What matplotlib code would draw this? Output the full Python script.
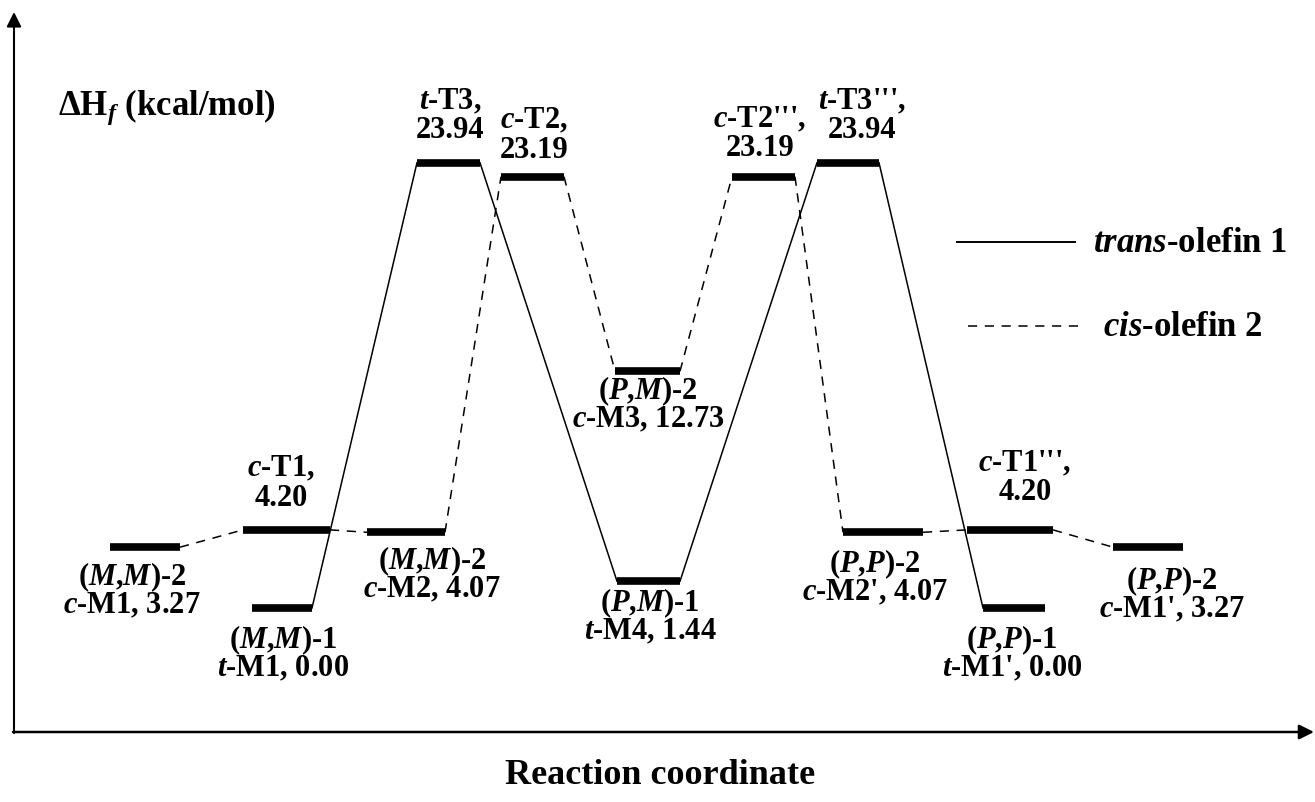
import matplotlib
matplotlib.use("Agg")
import matplotlib.pyplot as plt

plt.rcParams['font.family'] = ['Liberation Serif', 'DejaVu Serif']
plt.rcParams['font.weight'] = 'bold'
plt.rcParams['mathtext.fontset'] = 'custom'
plt.rcParams['mathtext.rm'] = 'Liberation Serif:bold'
plt.rcParams['mathtext.bf'] = 'Liberation Serif:bold'
plt.rcParams['mathtext.it'] = 'Liberation Serif:italic:bold'

# ---- data: states along the reaction coordinate ----
trans_names = ['t-M1', 't-T3', 't-M4', "t-T3'''", "t-M1'"]
trans_energy = [0.00, 23.94, 1.44, 23.94, 0.00]

cis_names = ['c-M1', 'c-T1', 'c-M2', 'c-T2', 'c-M3', "c-T2'''", "c-M2'", "c-T1'''", "c-M1'"]
cis_energy = [3.27, 4.20, 4.07, 23.19, 12.73, 23.19, 4.07, 4.20, 3.27]

# ---- layout (horizontal extents of the level bars, in reaction-coordinate units) ----
trans_x = [(252, 312), (417, 480), (617, 680), (817, 879), (983, 1045)]
cis_x = [(110, 180), (243, 330), (367, 445), (501, 564), (615, 680),
         (732, 795), (843, 923), (967, 1053), (1113, 1183)]

W, H = 1315, 802
SLOPE, ZERO = 18.6, 608.0  # pixels per kcal/mol, pixel row of 0 kcal/mol

fig = plt.figure(figsize=(W / 100, H / 100), dpi=100)
ax = fig.add_axes([0, 0, 1, 1])
ax.set_xlim(0, W)
ax.set_ylim((ZERO - H) / SLOPE, ZERO / SLOPE)
ax.axis('off')

DASH = (0, (6, 5))


def ypx(py):
    """pixel row (from top) -> energy axis value, for text placement"""
    return (ZERO - py) / SLOPE


def draw_series(xs, es, ls):
    for (x0, x1), e in zip(xs, es):
        ax.plot([x0, x1], [e, e], color='black', lw=5.5, solid_capstyle='butt')
    for i in range(len(es) - 1):
        ax.plot([xs[i][1], xs[i + 1][0]], [es[i], es[i + 1]], color='black',
                lw=1.1, linestyle=ls, dash_capstyle='butt')


draw_series(trans_x, trans_energy, '-')
draw_series(cis_x, cis_energy, DASH)

# ---- axes arrows ----
ax.annotate('', xy=(14, H - 12), xytext=(14, H - 733), xycoords='figure pixels',
            arrowprops=dict(arrowstyle='-|>', color='black', lw=1.5, mutation_scale=22,
                            shrinkA=0, shrinkB=0))
ax.annotate('', xy=(1314, H - 732), xytext=(13, H - 732), xycoords='figure pixels',
            arrowprops=dict(arrowstyle='-|>', color='black', lw=1.8, mutation_scale=22,
                            shrinkA=0, shrinkB=0))

FS = 22
M = r'$\mathit{M}$'
P = r'$\mathit{P}$'
ti = r'$\mathit{t}$'
ci = r'$\mathit{c}$'

labels = [
    # (x center, y line1, line1, line2)
    (132, 577, f'({M},{M})-2', f'{ci}-M1, 3.27'),
    (283, 640, f'({M},{M})-1', f'{ti}-M1, 0.00'),
    (281, 469, f'{ci}-T1,', '4.20'),
    (432, 561, f'({M},{M})-2', f'{ci}-M2, 4.07'),
    (450, 102, f'{ti}-T3,', '23.94'),
    (534, 121, f'{ci}-T2,', '23.19'),
    (648, 391, f'({P},{M})-2', f'{ci}-M3, 12.73'),
    (650, 603, f'({P},{M})-1', f'{ti}-M4, 1.44'),
    (760, 120, f"{ci}-T2''',", '23.19'),
    (862, 102, f"{ti}-T3''',", '23.94'),
    (875, 564, f'({P},{P})-2', f"{ci}-M2', 4.07"),
    (1025, 464, f"{ci}-T1''',", '4.20'),
    (1012, 640, f'({P},{P})-1', f"{ti}-M1', 0.00"),
    (1172, 581, f'({P},{P})-2', f"{ci}-M1', 3.27"),
]
for x, y1, l1, l2 in labels:
    ax.text(x, ypx(y1), l1, ha='center', va='center', fontsize=FS, fontweight='bold')
    ax.text(x, ypx(y1 + 29), l2, ha='center', va='center', fontsize=FS, fontweight='bold')

# ---- y label ----
ax.text(58, ypx(107), r'$\Delta\mathrm{H}_{\mathit{f}}$ (kcal/mol)', ha='left', va='center',
        fontsize=25, fontweight='bold')

# ---- legend ----
ax.plot([957, 1075], [ypx(242), ypx(242)], color='black', lw=1.4)
ax.plot([968, 1080], [ypx(326), ypx(326)], color='black', lw=1.1, linestyle=DASH)
ax.text(1093, ypx(243), r'$\mathit{trans}$-olefin 1', ha='left', va='center',
        fontsize=25, fontweight='bold')
ax.text(1103, ypx(327), r'$\mathit{cis}$-olefin 2', ha='left', va='center',
        fontsize=25, fontweight='bold')

# ---- x label ----
ax.text(660, ypx(776), 'Reaction coordinate', ha='center', va='center',
        fontsize=26, fontweight='bold')

fig.savefig('out.png', dpi=100, facecolor='white')
